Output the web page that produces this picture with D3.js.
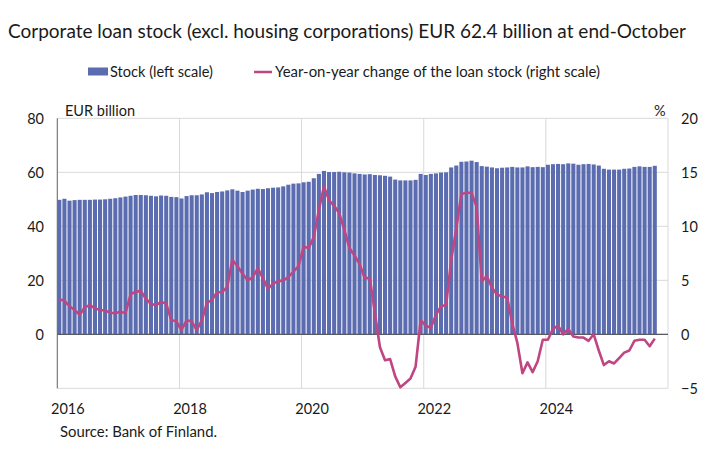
<!DOCTYPE html>
<html>
<head>
<meta charset="utf-8">
<script src="https://cdn.jsdelivr.net/npm/d3@7"></script>
<style>
  html, body { margin: 0; padding: 0; background: #fff; }
  svg { display: block; }
  text { font-family: Lato, "Open Sans", sans-serif; fill: #1a1a1a; }
</style>
</head>
<body>
<svg id="chart" width="720" height="470"></svg>
<script>
// ---- data ----
const startMonth = "2016-01";
const endMonth = "2025-12"; // axis extent
const stock = [
  49.8, 50.2, 49.5, 49.7, 49.8, 49.8, 49.8, 49.9, 49.9, 50.0, 50.2, 50.4,
  50.7, 51.0, 51.3, 51.6, 51.6, 51.5, 51.3, 51.1, 51.4, 51.3, 50.9, 50.8,
  50.3, 51.2, 51.5, 51.5, 51.8, 52.6, 52.3, 52.7, 52.9, 53.3, 53.7, 53.2,
  52.7, 53.2, 53.6, 53.9, 53.8, 54.1, 54.3, 54.4, 54.8, 55.4, 55.8, 55.9,
  56.3, 56.5, 57.8, 59.4, 60.5, 60.1, 60.1, 60.2, 60.0, 59.9, 59.6, 59.4,
  59.2, 59.3, 59.0, 58.9, 58.7, 58.4, 57.3, 57.0, 57.0, 57.0, 57.2, 59.4,
  59.0, 59.4, 59.6, 59.9, 60.0, 61.8, 62.5, 63.9, 64.0, 64.3, 63.8, 62.3,
  62.1, 61.8, 61.5, 61.7, 61.8, 62.0, 61.8, 61.8, 62.2, 61.9, 62.0, 61.9,
  62.8, 63.0, 63.1, 63.0, 63.3, 63.2, 62.8, 63.0, 63.1, 62.9, 62.5, 61.3,
  61.0, 61.0, 61.0, 61.3, 61.4, 62.0, 62.2, 62.0, 62.0, 62.4
];
const yoy = [
  3.25, 3.1, 2.6, 2.25, 1.8, 2.5, 2.7, 2.4, 2.25, 2.2, 2.0, 1.95,
  2.1, 1.95, 3.7, 3.95, 4.0, 3.3, 2.8, 2.7, 3.0, 2.85, 1.3, 1.2,
  0.4, 1.3, 1.2, 0.4, 1.3, 2.9, 3.2, 3.9, 3.9, 4.4, 6.9, 6.3,
  5.6, 5.0, 5.3, 6.1, 5.2, 4.2, 4.7, 4.9, 5.0, 5.3, 5.8, 6.3,
  8.1, 8.0, 9.0, 11.5, 13.7, 12.4, 11.9, 11.2, 9.7, 8.0, 7.3, 6.5,
  5.2, 5.2, 2.0, -1.2, -2.4, -2.3, -3.9, -4.9, -4.5, -4.1, -3.0, 1.3,
  0.8, 0.6, 1.8, 2.6, 2.7, 6.9, 9.8, 13.0, 13.1, 13.1, 11.8, 4.9,
  5.4, 4.3, 3.7, 3.5, 3.4, 1.0, -0.8, -3.6, -2.6, -3.5, -2.5, -0.5,
  -0.5, 0.5, 0.8, 0.0, 0.5, -0.2, -0.3, -0.3, -0.6, 0.0, -1.5, -2.85,
  -2.5, -2.7, -2.2, -1.7, -1.5, -0.6, -0.5, -0.5, -1.1, -0.4
];
const leftTicks = [0, 20, 40, 60, 80];
const rightTicks = [-5, 0, 5, 10, 15, 20];
const yearLabels = ["2016", "2018", "2020", "2022", "2024"];
const gridYears = ["2016", "2018", "2020", "2022", "2024", "2026"];
const titleText = "Corporate loan stock (excl. housing corporations) EUR 62.4 billion at end-October";
const legendStock = "Stock (left scale)";
const legendYoy = "Year-on-year change of the loan stock (right scale)";
const sourceText = "Source: Bank of Finland.";

// ---- layout ----
const W = 720, H = 470;
const plot = { left: 57.3, right: 668, top: 118.3, bottom: 388.3 };
const barColor = "#5B6CB0";
const lineColor = "#BF4682";

const parse = d3.timeParse("%Y-%m");
const fmt = d3.timeFormat("%Y-%m");
const months = d3.timeMonth.range(parse(startMonth), d3.timeMonth.offset(parse(endMonth), 1)).map(fmt);

const x = d3.scaleBand().domain(months).range([plot.left, plot.right]).paddingInner(0.2).paddingOuter(0.1).align(0);
const xEdge = d3.scaleTime()
  .domain([parse(startMonth), d3.timeMonth.offset(parse(endMonth), 1)])
  .range([plot.left, plot.right]);
const yL = d3.scaleLinear().domain([-20, 80]).range([plot.bottom, plot.top]);
const yR = d3.scaleLinear().domain([-5, 20]).range([plot.bottom, plot.top]);

const svg = d3.select("#chart");

// title
svg.append("text").attr("x", 8).attr("y", 38)
  .attr("font-size", 19.5).attr("textLength", 678).attr("lengthAdjust", "spacingAndGlyphs")
  .text(titleText);

// legend
svg.append("rect").attr("x", 88).attr("y", 67.5).attr("width", 20).attr("height", 8).attr("fill", barColor);
svg.append("text").attr("x", 110).attr("y", 77).attr("font-size", 14.5)
  .attr("textLength", 103).attr("lengthAdjust", "spacingAndGlyphs").text(legendStock);
svg.append("line").attr("x1", 254).attr("x2", 272).attr("y1", 72).attr("y2", 72)
  .attr("stroke", lineColor).attr("stroke-width", 2.5);
svg.append("text").attr("x", 275).attr("y", 77).attr("font-size", 14.5)
  .attr("textLength", 325).attr("lengthAdjust", "spacingAndGlyphs").text(legendYoy);

// horizontal gridlines
const gridG = svg.append("g");
gridG.selectAll("line.h").data(d3.range(-20, 81, 20)).join("line")
  .attr("x1", plot.left).attr("x2", plot.right)
  .attr("y1", d => yL(d)).attr("y2", d => yL(d))
  .attr("stroke", "#d9d9d9").attr("stroke-width", 1);
// vertical gridlines at years
gridG.selectAll("line.v").data(gridYears).join("line")
  .attr("x1", d => xEdge(parse(d + "-01"))).attr("x2", d => xEdge(parse(d + "-01")))
  .attr("y1", plot.top).attr("y2", plot.bottom)
  .attr("stroke", "#d9d9d9").attr("stroke-width", 1);

// bars
svg.append("g").selectAll("rect").data(stock).join("rect")
  .attr("x", (d, i) => x(months[i]))
  .attr("width", x.bandwidth())
  .attr("y", d => yL(d))
  .attr("height", d => yL(0) - yL(d))
  .attr("fill", barColor);

// zero line & left axis line
svg.append("line").attr("x1", plot.left).attr("x2", plot.right)
  .attr("y1", yL(0)).attr("y2", yL(0)).attr("stroke", "#555a66").attr("stroke-width", 1.3);
svg.append("line").attr("x1", plot.left).attr("x2", plot.left)
  .attr("y1", plot.top).attr("y2", plot.bottom).attr("stroke", "#6b6b6b").attr("stroke-width", 1);

// line series
const line = d3.line()
  .x((d, i) => x(months[i]) + x.bandwidth() / 2)
  .y(d => yR(d));
svg.append("path").datum(yoy).attr("d", line)
  .attr("fill", "none").attr("stroke", lineColor).attr("stroke-width", 2.6)
  .attr("stroke-linejoin", "round");

// axes
const axL = d3.axisLeft(yL).tickValues(leftTicks).tickSize(0).tickPadding(0);
const gL = svg.append("g").attr("transform", `translate(44,0)`).call(axL);
gL.select(".domain").remove();
gL.selectAll("text").attr("font-size", 14.5).attr("fill", "#1a1a1a").attr("dy", "0.35em");

const axR = d3.axisRight(yR).tickValues(rightTicks).tickSize(0).tickPadding(0);
const gR = svg.append("g").attr("transform", `translate(681,0)`).call(axR);
gR.select(".domain").remove();
gR.selectAll("text").attr("font-size", 14.5).attr("fill", "#1a1a1a").attr("dy", "0.35em");

// x labels
svg.append("g").selectAll("text").data(yearLabels).join("text")
  .attr("x", d => xEdge(parse(d + "-01")) + 10.5)
  .attr("y", 414).attr("text-anchor", "middle").attr("font-size", 14.5)
  .text(d => d);

// unit labels
svg.append("text").attr("x", 65).attr("y", 116).attr("font-size", 14.5).text("EUR billion");
svg.append("text").attr("x", 654).attr("y", 116).attr("font-size", 14.5).text("%");

// source
svg.append("text").attr("x", 60).attr("y", 437).attr("font-size", 14.5)
  .attr("textLength", 157).attr("lengthAdjust", "spacingAndGlyphs").text(sourceText);
</script>
</body>
</html>
